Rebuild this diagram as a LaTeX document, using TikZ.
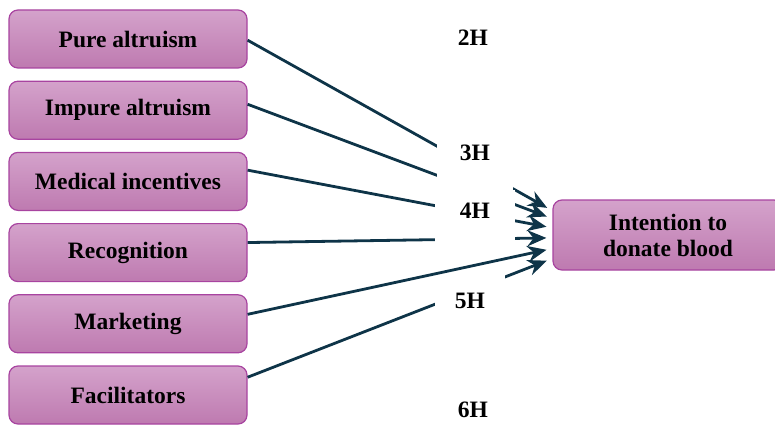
\documentclass[tikz,border=0pt]{standalone}
\usepackage{fontspec}
\setmainfont{Liberation Serif}
\usetikzlibrary{arrows.meta, positioning, calc}
\definecolor{boxtop}{RGB}{212,162,203}
\definecolor{boxbot}{RGB}{190,122,176}
\definecolor{boxline}{RGB}{168,68,160}
\definecolor{linkblue}{RGB}{14,52,72}
\tikzset{
  factor/.style={
    rectangle, rounded corners=9pt, draw=boxline, line width=1.2pt,
    top color=boxtop, bottom color=boxbot,
    minimum width=238pt, minimum height=58pt,
    text centered, font=\fontsize{23.5}{26}\selectfont\bfseries
  },
  outcome/.style={
    factor, minimum width=230pt, minimum height=70pt, align=center
  },
  hyp/.style={
    fill=white, inner xsep=0pt, inner ysep=3pt,
    font=\fontsize{23.5}{26}\selectfont\bfseries
  },
  arrow/.style={line width=2.8pt, -{Stealth[length=19pt,width=16pt]}, color=linkblue, shorten >=6pt},
}
\begin{document}
\begin{tikzpicture}[x=1pt, y=-1pt, node distance=12pt]
  \useasboundingbox (0,0) rectangle (775,425);

  \node (pure)    [factor] at (128,39)       {Pure altruism};
  \node (impure)  [factor, below=of pure]    {Impure altruism};
  \node (medical) [factor, below=of impure]  {Medical incentives};
  \node (recog)   [factor, below=of medical] {Recognition};
  \node (market)  [factor, below=of recog]   {Marketing};
  \node (facil)   [factor, below=of market]  {Facilitators};
  \node (intent)  [outcome] at (668,235)     {Intention to\\donate blood};

  \draw [arrow] ($(pure.north east)!.52!(pure.south east)$)       -- ($(intent.north west)!.16!(intent.south west)$);
  \draw [arrow] ($(impure.north east)!.40!(impure.south east)$)   -- ($(intent.north west)!.27!(intent.south west)$);
  \draw [arrow] ($(medical.north east)!.31!(medical.south east)$) -- ($(intent.north west)!.40!(intent.south west)$);
  \draw [arrow] ($(recog.north east)!.33!(recog.south east)$)     -- ($(intent.north west)!.54!(intent.south west)$);
  \draw [arrow] ($(facil.north east)!.20!(facil.south east)$)     -- ($(intent.north west)!.83!(intent.south west)$);

  % hypothesis labels
  \node (h2) [hyp] at (473,38) {2H};
  \node (h3) [hyp, anchor=base, minimum width=76pt, text height=17pt, text depth=27pt] at (475,160) {3H};
  \node (h4) [hyp, anchor=base, minimum width=80pt, text height=25pt, text depth=24pt] at (475,218) {4H};
  \node (h5) [hyp, anchor=base, minimum width=70pt, text height=33pt, text depth=1pt] at (470,308) {5H};
  \node (h6) [hyp] at (473,410) {6H};

  \draw [arrow] ($(market.north east)!.34!(market.south east)$)   -- ($(intent.north west)!.69!(intent.south west)$);
\end{tikzpicture}
\end{document}
